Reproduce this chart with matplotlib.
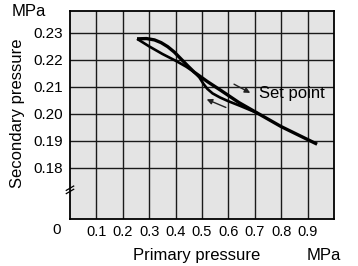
import numpy as np
import matplotlib
matplotlib.use("Agg")
import matplotlib.pyplot as plt

plt.rcParams['font.family'] = ['Liberation Sans', 'DejaVu Sans']

# branch A: upper side of first loop, then the straight part down to the end
x_a = [0.254, 0.29, 0.32, 0.345, 0.37, 0.395, 0.42, 0.447, 0.47, 0.52, 0.57, 0.64, 0.71, 0.8, 0.936]
y_a = [0.2278, 0.2279, 0.2274, 0.2264, 0.2249, 0.2229, 0.2204, 0.2177, 0.2155, 0.2120, 0.2088, 0.2042, 0.2003, 0.1953, 0.1888]

# branch B: lower side of first loop, then bowing below in the second loop
x_b = [0.254, 0.30, 0.35, 0.40, 0.44, 0.47, 0.49, 0.505, 0.52, 0.54, 0.568, 0.60, 0.644, 0.71]
y_b = [0.2278, 0.2250, 0.2222, 0.2197, 0.2175, 0.2155, 0.2135, 0.2112, 0.2093, 0.2076, 0.2061, 0.2047, 0.2030, 0.2003]

x_ticks = [0.1, 0.2, 0.3, 0.4, 0.5, 0.6, 0.7, 0.8, 0.9]
x_labels = ["0.1", "0.2", "0.3", "0.4", "0.5", "0.6", "0.7", "0.8", "0.9"]
y_ticks = [0.18, 0.19, 0.20, 0.21, 0.22, 0.23]
y_labels = ["0.18", "0.19", "0.20", "0.21", "0.22", "0.23"]

fig = plt.figure(figsize=(3.58, 2.66), dpi=100)
ax = fig.add_axes([0.1955, 0.1767, 0.7375, 0.7819])
ax.set_facecolor("#e4e4e4")

ax.plot(x_a, y_a, color="black", lw=2.4, solid_capstyle="butt", zorder=3)
ax.plot(x_b, y_b, color="black", lw=1.9, solid_capstyle="butt", zorder=3)

ax.set_xlim(0, 1.0)
ax.set_ylim(0.1611, 0.2381)
ax.set_xticks(x_ticks)
ax.set_xticklabels(x_labels, fontsize=10.5,
                   family=['Liberation Sans Narrow', 'Liberation Sans'])
ax.set_yticks(y_ticks)
ax.set_yticklabels(y_labels, fontsize=11)
ax.tick_params(axis="x", length=0, pad=4)
ax.tick_params(axis="y", length=0, pad=5)
ax.grid(True, color="#1a1a1a", lw=1.0)
ax.set_axisbelow(True)
for s in ax.spines.values():
    s.set_color("black")
    s.set_linewidth(1.3)

# arrows and label
ax.annotate("", xy=(0.692, 0.2073), xytext=(0.612, 0.2115),
            arrowprops=dict(arrowstyle="-|>", color="#222222", lw=1.0, mutation_scale=8))
ax.annotate("", xy=(0.508, 0.2058), xytext=(0.6, 0.2020),
            arrowprops=dict(arrowstyle="-|>", color="#222222", lw=1.0, mutation_scale=8))
ax.text(0.715, 0.2075, "Set point", fontsize=12, va="center", ha="left")

# axis break mark
for dy in (-0.0006, 0.0006):
    ax.plot([-0.014, 0.014], [0.1711 + dy, 0.1727 + dy], color="black", lw=0.9,
            clip_on=False, zorder=5)

fig.text(0.159, 0.135, "0", fontsize=11, ha="center", va="center")
fig.text(0.081, 0.955, "MPa", fontsize=12, ha="center", va="center")
fig.text(0.55, 0.041, "Primary pressure", fontsize=12, ha="center", va="center")
fig.text(0.905, 0.041, "MPa", fontsize=12, ha="center", va="center")
fig.text(0.05, 0.575, "Secondary pressure", fontsize=12, ha="center", va="center",
         rotation=90)

fig.savefig("out.png", dpi=100)
